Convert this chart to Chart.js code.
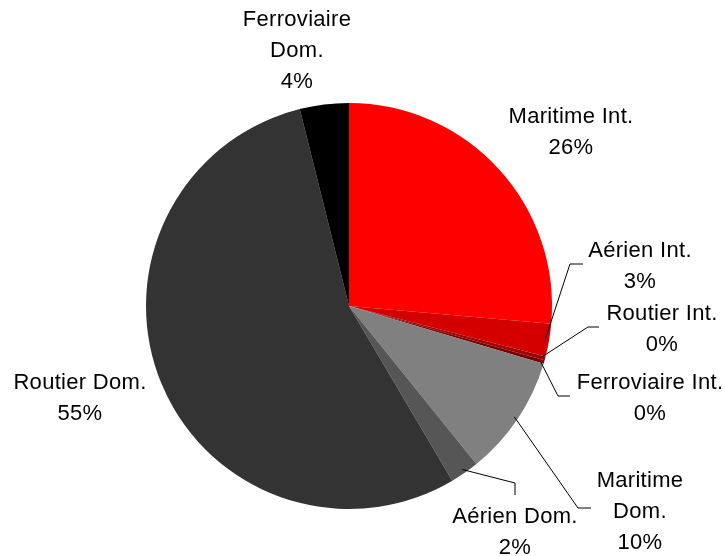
<!DOCTYPE html>
<html>
<head>
<meta charset="utf-8">
<script src="https://cdn.jsdelivr.net/npm/chart.js@4/dist/chart.umd.min.js"></script>
<style>
  html, body { margin: 0; padding: 0; background: #fff; }
  canvas { display: block; }
</style>
</head>
<body>
<canvas id="myChart" width="725" height="556"></canvas>
<script>
var categories = ['Maritime Int.', 'Aérien Int.', 'Routier Int.', 'Ferroviaire Int.',
                  'Maritime Dom.', 'Aérien Dom.', 'Routier Dom.', 'Ferroviaire Dom.'];
var shares = [26.4, 2.6, 0.3, 0.3, 9.6, 2.3, 54.6, 3.9];
var colors = ['#ff0000', '#d40000', '#a00000', '#7a0000',
              '#808080', '#565656', '#333333', '#000000'];

// label block centre and leader elbow, relative to the pie centre
var labelLayout = [
  { lines: ['Maritime Int.'], at: [222, -174] },
  { lines: ['Aérien Int.'], at: [291, -40], elbow: [221, -42], end: [234, -42] },
  { lines: ['Routier Int.'], at: [313, 23], elbow: [239, 21], end: [250, 21] },
  { lines: ['Ferroviaire Int.'], at: [301, 92], elbow: [209, 90], end: [221, 90] },
  { lines: ['Maritime', 'Dom.'], at: [291, 206], elbow: [229, 202], end: [242, 202] },
  { lines: ['Aérien Dom.'], at: [166, 226], elbow: [166, 177], end: [166, 189] },
  { lines: ['Routier Dom.'], at: [-269, 92] },
  { lines: ['Ferroviaire', 'Dom.'], at: [-52, -255] }
];

var total = shares.reduce(function(a, b) { return a + b; }, 0);

var outsideLabels = {
  id: 'outsideLabels',
  afterDraw: function(chart) {
    var ctx = chart.ctx;
    var meta = chart.getDatasetMeta(0);
    ctx.save();
    ctx.font = '22px "Liberation Sans", Arial, sans-serif';
    ctx.letterSpacing = '0.3px';
    ctx.fillStyle = '#000';
    ctx.textAlign = 'center';
    ctx.textBaseline = 'middle';
    meta.data.forEach(function(arc, i) {
      var lay = labelLayout[i];
      var cx = arc.x, cy = arc.y;
      if (lay.elbow) {
        var mid = (arc.startAngle + arc.endAngle) / 2;
        var r = arc.outerRadius - 4;
        ctx.beginPath();
        ctx.lineWidth = 1;
        ctx.strokeStyle = '#000';
        ctx.moveTo(cx + Math.cos(mid) * r, cy + Math.sin(mid) * r);
        ctx.lineTo(cx + lay.elbow[0], cy + lay.elbow[1]);
        ctx.lineTo(cx + lay.end[0], cy + lay.end[1]);
        ctx.stroke();
      }
      var text = lay.lines.concat([Math.round(shares[i] / total * 100) + '%']);
      var lh = 31;
      var y0 = cy + lay.at[1] - (text.length - 1) * lh / 2;
      text.forEach(function(t, k) {
        ctx.fillText(t, cx + lay.at[0], y0 + k * lh);
      });
    });
    ctx.restore();
  }
};

var ctx = document.getElementById('myChart').getContext('2d');
var myChart = new Chart(ctx, {
  type: 'pie',
  data: {
    labels: categories,
    datasets: [{
      data: shares,
      backgroundColor: colors,
      borderWidth: 0,
      hoverOffset: 0
    }]
  },
  options: {
    responsive: false,
    animation: false,
    layout: {
      padding: { left: 146, right: 173, top: 103, bottom: 47 }
    },
    plugins: {
      legend: false,
      tooltip: false
    }
  },
  plugins: [outsideLabels]
});
</script>
</body>
</html>
